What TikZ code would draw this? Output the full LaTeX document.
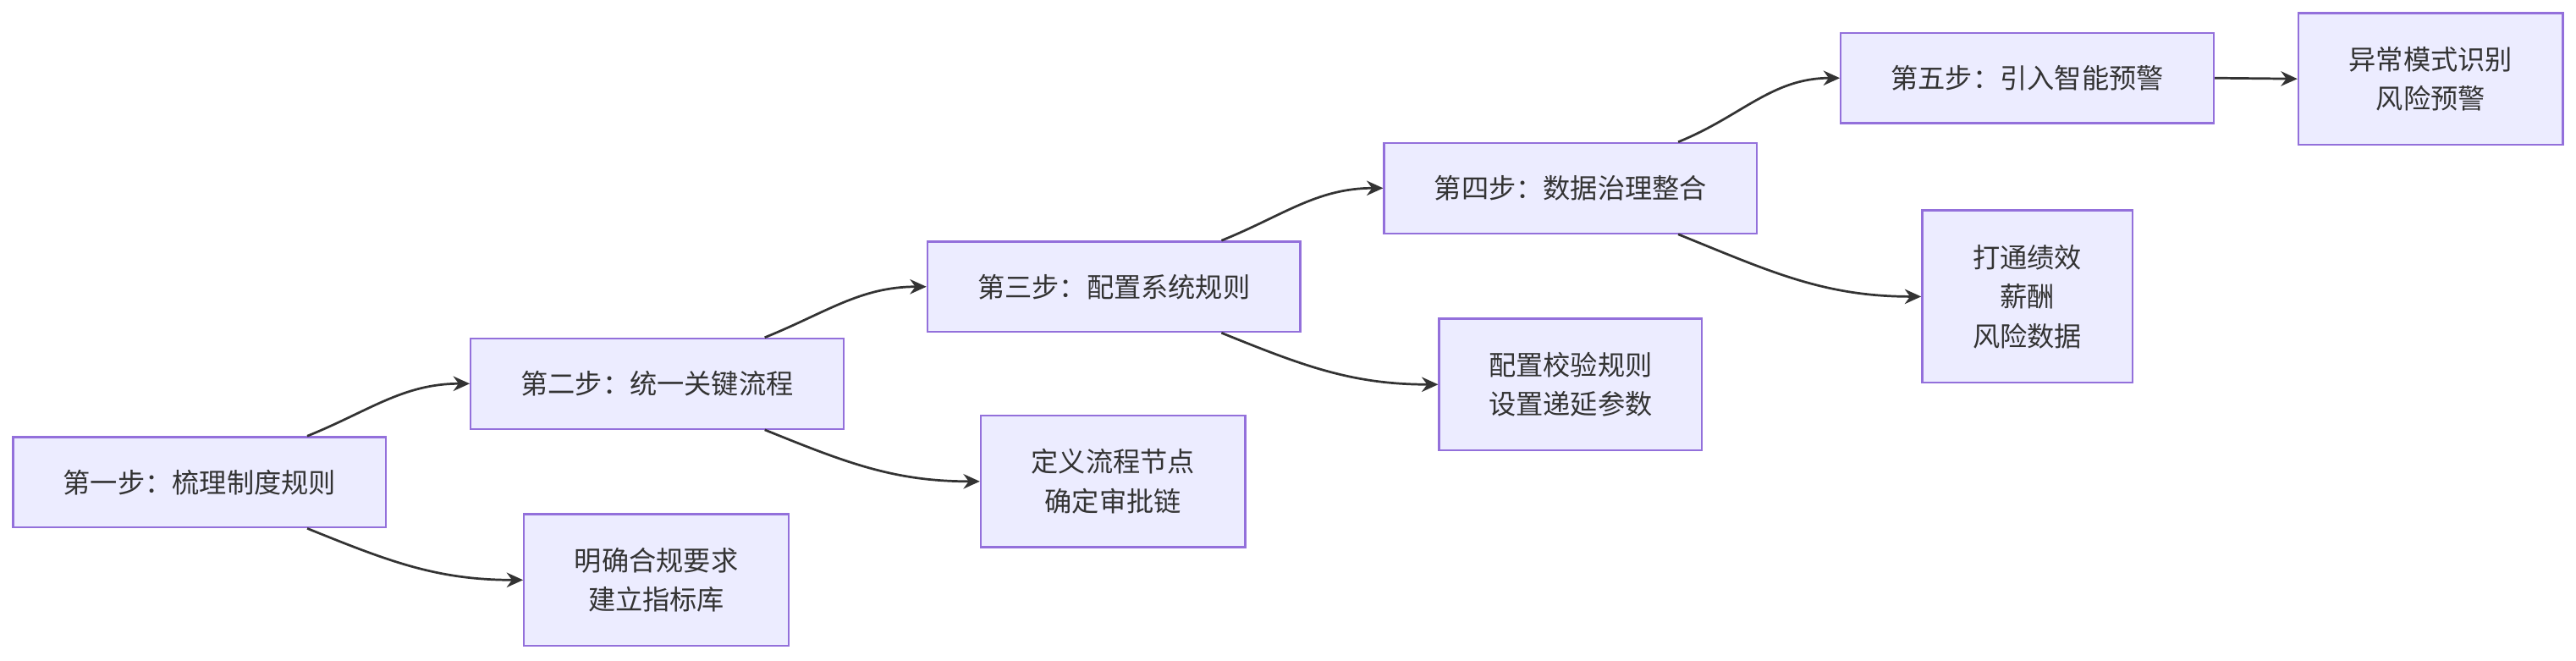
\documentclass[tikz,border=0pt]{standalone}
\usepackage{fontspec}
\setmainfont{Noto Sans CJK SC}
\usetikzlibrary{calc,arrows.meta}
\definecolor{nfill}{HTML}{ECECFF}
\definecolor{nline}{HTML}{9370DB}
\definecolor{eline}{HTML}{333333}
\begin{document}
\begin{tikzpicture}[x=0.5pt,y=0.5pt,
 box/.style={draw=nline,fill=nfill,line width=0.6pt,inner sep=0pt,align=center,font=\fontsize{8.3}{12}\selectfont,text=eline},
 arr/.style={draw=eline,line width=0.7pt,-{Stealth[length=5pt,width=4.5pt]}}]
\useasboundingbox[fill=white] (0,0) rectangle (1568,402);
\node[box,minimum width=113.5pt,minimum height=27.5pt] (n1) at (121.5,108.5) {第一步：梳理制度规则};
\node[box,minimum width=113.5pt,minimum height=27.5pt] (n2) at (400,168.5) {第二步：统一关键流程};
\node[box,minimum width=113.5pt,minimum height=27.5pt] (n3) at (678,227.5) {第三步：配置系统规则};
\node[box,minimum width=113.5pt,minimum height=27.5pt] (n4) at (956,287.5) {第四步：数据治理整合};
\node[box,minimum width=113.5pt,minimum height=27.5pt] (n5) at (1234,354.5) {第五步：引入智能预警};
\node[box,minimum width=80.5pt,minimum height=40pt] (n6) at (1479.5,354) {异常模式识别\\风险预警};
\node[box,minimum width=80.5pt,minimum height=40pt] (l1) at (399.5,49) {明确合规要求\\建立指标库};
\node[box,minimum width=80.5pt,minimum height=40pt] (l2) at (677.5,109) {定义流程节点\\确定审批链};
\node[box,minimum width=80pt,minimum height=40pt] (l3) at (956,168) {配置校验规则\\设置递延参数};
\node[box,minimum width=64pt,minimum height=52.5pt] (l4) at (1234,221.5) {打通绩效\\薪酬\\风险数据};
\foreach \a/\b/\c in {n1/n2/l1,n2/n3/l2,n3/n4/l3,n4/n5/l4}{
 \draw[arr] ($(\a.north)+(65.5,0)$) to[out=22,in=180] (\b.west);
 \draw[arr] ($(\a.south)+(65.5,0)$) to[out=-22,in=180] (\c.west);
}
\draw[arr] (n5.east) -- (n6.west);
\end{tikzpicture}
\end{document}
